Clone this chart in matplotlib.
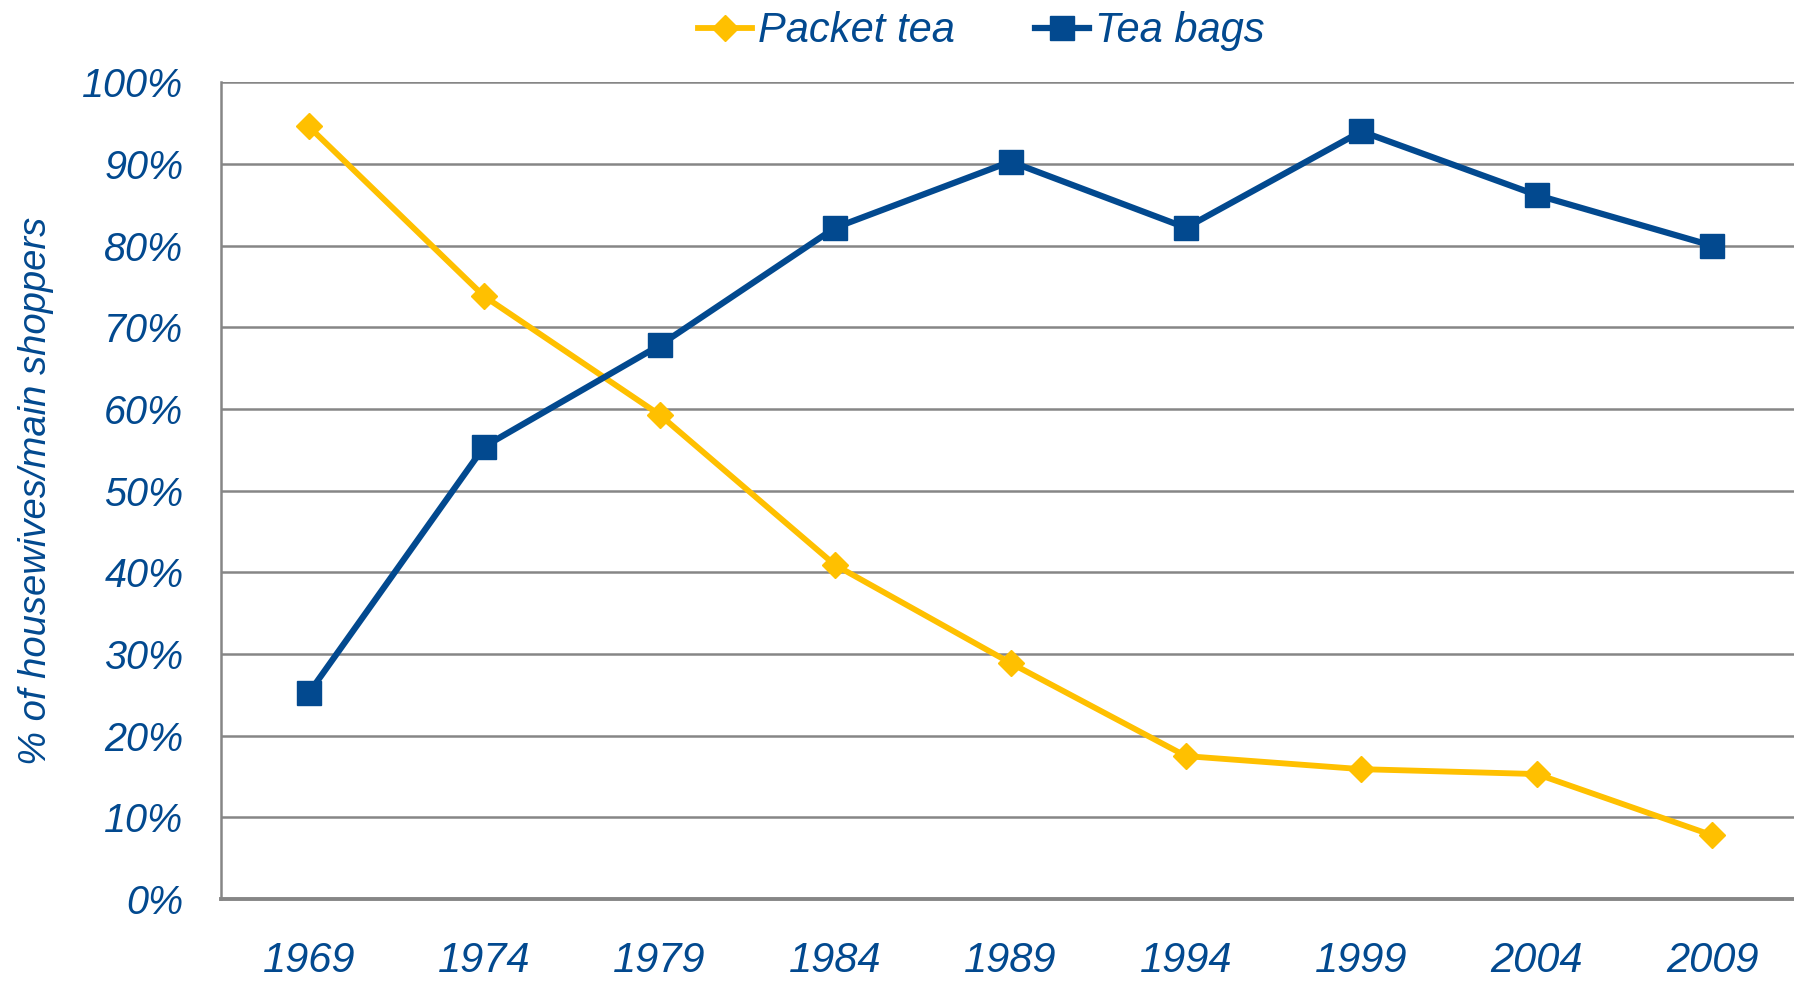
import matplotlib
matplotlib.use("Agg")
import matplotlib.pyplot as plt
from matplotlib.ticker import FuncFormatter

years = ["1969", "1974", "1979", "1984", "1989", "1994", "1999", "2004", "2009"]
packet_tea = [94.6, 73.8, 59.3, 40.9, 28.9, 17.5, 15.9, 15.3, 7.8]
tea_bags = [25.2, 55.4, 67.8, 82.2, 90.3, 82.2, 94.0, 86.2, 80.0]

BLUE = "#02498F"
GOLD = "#FFC000"
GRID = "#868686"

plt.rcParams['font.family'] = ['Liberation Sans', 'DejaVu Sans']

fig = plt.figure(figsize=(17.94, 9.81), dpi=100)
ax = fig.add_axes([221/1794, 1-899/981, (1800-221)/1794, (899-82.4)/981])

x = list(range(len(years)))
l1, = ax.plot(x, packet_tea, color=GOLD, lw=4.2, marker='D', ms=13.5, mfc=GOLD, mec=GOLD,
              label='Packet tea', zorder=3, clip_on=False)
l2, = ax.plot(x, tea_bags, color=BLUE, lw=4.5, marker='s', ms=17, mfc=BLUE, mec=BLUE,
              label='Tea bags', zorder=4, clip_on=False)

ax.set_xlim(-0.5, len(years) - 0.5)
ax.set_ylim(0, 100)
ax.set_yticks(range(0, 101, 10))
ax.yaxis.set_major_formatter(FuncFormatter(lambda v, p: f"{int(v)}%"))
ax.set_xticks(x)
ax.set_xticklabels(years)

ax.grid(axis='y', color=GRID, lw=1.8)
ax.set_axisbelow(True)
for s in ['top', 'right']:
    ax.spines[s].set_visible(False)
ax.spines['left'].set_color(GRID)
ax.spines['left'].set_linewidth(1.8)
ax.spines['bottom'].set_color(GRID)
ax.spines['bottom'].set_linewidth(2.8)

ax.tick_params(axis='both', length=0, colors=BLUE)
ax.tick_params(axis='y', pad=27, labelsize=28.5)
ax.tick_params(axis='x', pad=30, labelsize=30)
for t in ax.get_yticklabels() + ax.get_xticklabels():
    t.set_fontstyle('italic')

ax.set_ylabel('% of housewives/main shoppers', color=BLUE, fontsize=27.5,
              fontstyle='italic')
ax.yaxis.set_label_coords(-0.106, 0.5)

leg = fig.legend(handles=[l1, l2], loc='center', bbox_to_anchor=(0.547, 0.968), ncol=2,
                 frameon=False, handlelength=1.3, handletextpad=0.15,
                 columnspacing=1.9, prop={'style': 'italic', 'size': 30})
for t in leg.get_texts():
    t.set_color(BLUE)

fig.savefig("out.png", dpi=100)
